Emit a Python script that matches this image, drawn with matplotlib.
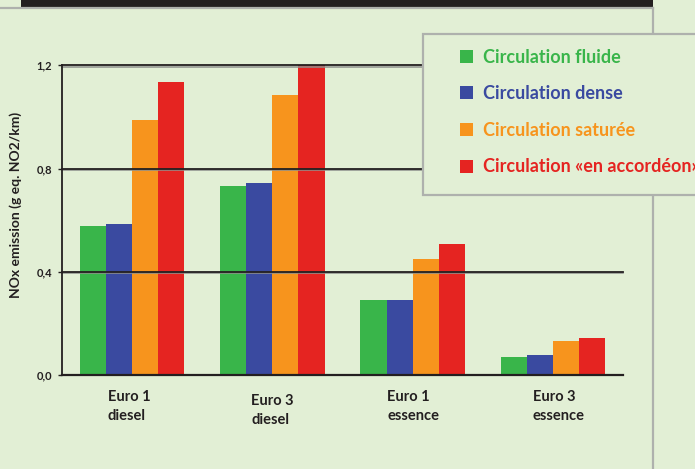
import matplotlib
matplotlib.use("Agg")
import matplotlib.pyplot as plt
from matplotlib.patches import Rectangle
from matplotlib.lines import Line2D
import matplotlib.transforms as mtransforms
import numpy as np

# ---- data -------------------------------------------------------------
categories = ["Euro 1\ndiesel", "Euro 3\ndiesel", "Euro 1\nessence", "Euro 3\nessence"]
series_names = [
    "Circulation fluide",
    "Circulation dense",
    "Circulation saturée",
    "Circulation «en accordéon»",
]
fluide = [0.577, 0.732, 0.290, 0.070]
dense = [0.585, 0.743, 0.290, 0.078]
saturee = [0.987, 1.085, 0.449, 0.132]
accordeon = [1.134, 1.200, 0.507, 0.143]
yticks = [0.0, 0.4, 0.8, 1.2]
ytick_labels = ["0,0", "0,4", "0,8", "1,2"]
ylabel = "NOx emission (g eq. NO2/km)"

series = [fluide, dense, saturee, accordeon]
colors = ["#39b54a", "#3a4aa0", "#f7941d", "#e52421"]

BG = "#e2efd5"
INK = "#231f20"
FRAME = "#aeb1ad"
FONT = "Lato"

W, H = 695, 469
fig = plt.figure(figsize=(W / 100, H / 100), dpi=100, facecolor=BG)


def fx(px):
    return px / W


def fy(py):
    return 1 - py / H


# plotting area
ax = fig.add_axes([fx(62), fy(375), fx(623) - fx(62), fy(65.3) - fy(375)])
ax.set_facecolor("none")

x = np.arange(len(categories))
bw = 0.186
for k, (vals, col) in enumerate(zip(series, colors)):
    ax.bar(x + (k - 1.5) * bw, vals, width=bw, color=col, linewidth=0,
           zorder=2, label=series_names[k])

ax.set_xlim(-0.5, 3.5)
ax.set_ylim(0, 1.2)

# horizontal rules drawn over the bars, with a faint grey shadow underneath
shadow = ax.get_yaxis_transform() + mtransforms.ScaledTranslation(0, -1.2 / 72, fig.dpi_scale_trans)
for yv in yticks[1:]:
    ax.plot([0, 1], [yv, yv], color="#8e908c", lw=1.1, zorder=3,
            transform=shadow, clip_on=False)
    ax.plot([0, 1], [yv, yv], color=INK, lw=1.3, zorder=4,
            transform=ax.get_yaxis_transform(), clip_on=False)

for side in ("top", "right"):
    ax.spines[side].set_visible(False)
ax.spines["left"].set_color(INK)
ax.spines["left"].set_linewidth(1.3)
ax.spines["bottom"].set_color(INK)
ax.spines["bottom"].set_linewidth(1.6)
ax.spines["left"].set_zorder(5)
ax.spines["bottom"].set_zorder(5)

ax.set_yticks(yticks)
ax.set_yticklabels(ytick_labels, fontsize=8, fontweight="bold", family=FONT, color=INK)
ax.tick_params(axis="y", length=3.2, width=1.0, color=INK, pad=4.0)

# category labels under each group (two lines, left-aligned block)
ax.set_xticks([])
ax.tick_params(axis="x", length=0)
label_shift = [(-3, 0), (0, -4), (0.5, 0), (6, 0)]
for xi, lab, (dx, dy) in zip(x, categories, label_shift):
    ax.text(xi, 0, lab, ha="center", va="top", multialignment="left",
            fontsize=10.5, fontweight="bold", family=FONT, color=INK, linespacing=1.5,
            transform=ax.get_xaxis_transform() + mtransforms.ScaledTranslation(dx / 100, (-15 + dy) / 100, fig.dpi_scale_trans))

ax.set_ylabel(ylabel, fontsize=10, fontweight="bold", family=FONT, color=INK)
ax.yaxis.set_label_coords(-0.071, 0.55)

# page furniture: top band, frame lines
fig.add_artist(Rectangle((fx(21), fy(7)), fx(653) - fx(21), fy(0) - fy(7),
                         transform=fig.transFigure, facecolor=INK, edgecolor="none", zorder=1))
fig.add_artist(Line2D([fx(0), fx(653)], [fy(8.5), fy(8.5)], transform=fig.transFigure,
                      color=FRAME, lw=1.6, zorder=1))
fig.add_artist(Line2D([fx(652.5), fx(652.5)], [fy(8.5), fy(469)], transform=fig.transFigure,
                      color=FRAME, lw=1.6, zorder=1))

# legend panel
fig.add_artist(Rectangle((fx(423), fy(195)), fx(720) - fx(423), fy(34) - fy(195),
                         transform=fig.transFigure, facecolor=BG, edgecolor=FRAME,
                         lw=1.6, zorder=10))
row_y = [56.7, 92.7, 129.5, 166.3]
for name, col, ry in zip(series_names, colors, row_y):
    fig.add_artist(Rectangle((fx(460), fy(ry + 6.3)), fx(473) - fx(460), fy(ry - 6.3) - fy(ry + 6.3),
                             transform=fig.transFigure, facecolor=col, edgecolor="none", zorder=11))
    fig.text(fx(483), fy(ry + 6), name, ha="left", va="baseline", fontsize=13,
             fontweight="bold", family=FONT, color=col, zorder=12)

fig.savefig("out.png", dpi=100, facecolor=BG)
